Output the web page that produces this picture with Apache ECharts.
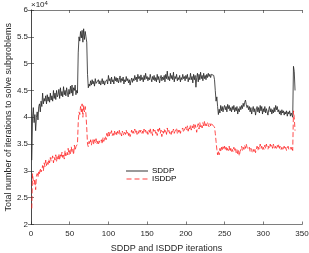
<!DOCTYPE html>
<html><head><meta charset="utf-8">
<script src="https://cdn.jsdelivr.net/npm/echarts@6/dist/echarts.min.js"></script>
<style>html,body{margin:0;padding:0;background:#fff}#c{width:309px;height:253px}</style>
</head><body><div id="c"></div>
<script>
// values in units of 1e4
const sddp = [
3.2,4.0,4.18,3.9,4.05,3.75,4.0,4.1,3.95,4.2,
4.25,4.1,4.3,4.2,4.45,4.25,4.35,4.3,4.4,4.25,
4.42,4.3,4.38,4.28,4.45,4.32,4.4,4.3,4.5,4.35,
4.45,4.33,4.5,4.38,4.42,4.52,4.35,4.55,4.4,4.48,
4.38,4.57,4.42,4.5,4.4,4.55,4.45,4.38,4.52,4.43,
4.58,4.45,4.6,4.4,4.55,4.5,4.6,4.42,4.5,4.45,
5.2,5.5,5.42,5.6,5.48,5.62,5.4,5.65,5.45,5.6,
5.5,5.4,4.8,4.55,4.62,4.58,4.68,4.6,4.7,4.62,
4.67,4.58,4.72,4.63,4.66,4.6,4.7,4.62,4.68,4.6,
4.65,4.72,4.62,4.68,4.6,4.66,4.63,4.7,4.62,4.78,
4.68,4.72,4.62,4.75,4.66,4.7,4.62,4.76,4.68,4.74,
4.66,4.73,4.64,4.7,4.77,4.65,4.72,4.68,4.75,4.62,
4.7,4.66,4.76,4.68,4.72,4.64,4.7,4.6,4.68,4.73,
4.65,4.72,4.68,4.78,4.7,4.75,4.66,4.8,4.72,4.76,
4.68,4.79,4.7,4.74,4.66,4.78,4.7,4.82,4.72,4.76,
4.68,4.74,4.7,4.8,4.72,4.66,4.76,4.7,4.78,4.68,
4.74,4.66,4.8,4.7,4.76,4.64,4.72,4.78,4.68,4.75,
4.7,4.78,4.66,4.8,4.72,4.86,4.7,4.76,4.68,4.82,
4.72,4.78,4.7,4.84,4.66,4.76,4.72,4.8,4.68,4.74,
4.7,4.78,4.66,4.74,4.7,4.8,4.72,4.76,4.68,4.78,
4.72,4.8,4.66,4.74,4.7,4.82,4.7,4.76,4.64,4.8,
4.7,4.78,4.56,4.74,4.82,4.66,4.8,4.7,4.84,4.72,
4.78,4.68,4.82,4.72,4.78,4.7,4.8,4.74,4.82,4.76,
4.8,4.74,4.8,4.78,4.82,4.78,4.7,
4.5,4.3,4.38,4.2,4.05,4.15,4.08,4.22,4.12,4.2,4.1,4.18,4.22,
4.14,4.2,4.1,4.24,4.16,4.22,4.12,4.18,4.1,4.2,
4.14,4.22,4.1,4.18,4.12,4.2,4.06,4.16,4.1,4.2,
4.14,4.22,4.16,4.26,4.2,4.28,4.32,4.24,4.18,4.22,
4.14,4.2,4.1,4.18,4.06,4.14,4.2,4.1,4.16,4.04,
4.14,4.2,4.1,4.18,4.08,4.22,4.12,4.2,4.06,4.16,
4.1,4.2,4.08,4.16,4.1,4.04,4.14,4.2,4.1,4.16,
4.06,4.14,4.08,4.18,4.1,4.22,4.14,4.2,4.1,4.14,
4.06,4.12,4.04,4.14,4.08,4.12,4.04,4.1,4.06,4.12,
4.02,4.1,4.06,4.12,4.02,4.08,4.05,4.0,4.95,4.85,4.5
];
const isddp = [
2.3,2.95,2.8,2.75,2.85,2.65,2.9,2.95,2.88,3.0,
2.95,3.05,2.98,3.02,3.1,3.0,3.15,3.08,3.2,3.1,
3.18,3.12,3.22,3.15,3.25,3.18,3.2,3.28,3.15,3.25,
3.2,3.3,3.18,3.28,3.22,3.32,3.2,3.3,3.25,3.35,
3.25,3.32,3.22,3.38,3.28,3.35,3.3,3.42,3.3,3.38,
3.32,3.45,3.35,3.4,3.3,3.48,3.38,3.45,3.42,3.5,
3.9,4.1,4.05,4.2,4.1,4.25,4.0,4.22,4.1,4.2,
4.05,3.8,3.5,3.45,3.55,3.5,3.58,3.48,3.55,3.6,
3.5,3.58,3.52,3.6,3.5,3.55,3.48,3.56,3.52,3.5,
3.58,3.5,3.62,3.55,3.6,3.65,3.58,3.7,3.62,3.72,
3.65,3.72,3.68,3.75,3.66,3.7,3.64,3.74,3.68,3.72,
3.66,3.74,3.7,3.76,3.68,3.72,3.65,3.74,3.7,3.66,
3.72,3.68,3.76,3.7,3.74,3.66,3.72,3.64,3.7,3.76,
3.68,3.74,3.7,3.78,3.72,3.76,3.68,3.74,3.7,3.78,
3.72,3.76,3.7,3.74,3.68,3.78,3.72,3.76,3.7,3.74,
3.68,3.76,3.72,3.8,3.7,3.74,3.66,3.78,3.72,3.76,
3.7,3.74,3.66,3.78,3.72,3.8,3.7,3.76,3.64,3.74,
3.7,3.78,3.72,3.76,3.68,3.8,3.72,3.76,3.7,3.74,
3.68,3.76,3.72,3.78,3.7,3.74,3.72,3.8,3.7,3.76,
3.72,3.78,3.7,3.76,3.74,3.8,3.72,3.76,3.74,3.82,
3.76,3.84,3.74,3.82,3.78,3.86,3.76,3.84,3.8,3.88,
3.78,3.86,3.8,3.72,3.84,3.88,3.78,3.9,3.82,3.86,
3.8,3.9,3.84,3.92,3.82,3.88,3.84,3.9,3.86,3.82,
3.88,3.84,3.9,3.86,3.88,3.85,3.82,
3.7,3.55,3.4,3.3,3.38,3.3,3.42,3.35,3.44,3.38,3.45,3.4,3.46,
3.38,3.44,3.36,3.42,3.38,3.46,3.36,3.42,3.34,3.4,
3.36,3.44,3.38,3.42,3.34,3.4,3.32,3.38,3.28,3.36,
3.4,3.46,3.38,3.44,3.4,3.48,3.42,3.5,3.44,3.46,
3.4,3.44,3.36,3.42,3.38,3.34,3.4,3.36,3.42,3.34,
3.4,3.46,3.38,3.44,3.4,3.5,3.42,3.46,3.38,3.44,
3.4,3.48,3.42,3.5,3.44,3.4,3.46,3.42,3.5,3.44,
3.48,3.42,3.5,3.44,3.4,3.46,3.42,3.48,3.44,3.5,
3.42,3.46,3.4,3.44,3.38,3.42,3.46,3.4,3.44,3.38,
3.42,3.46,3.4,3.38,3.44,3.4,3.45,3.38,4.12,4.0,3.75
];
const seriesNames = ['SDDP','ISDDP'];
const xTicks = [0,50,100,150,200,250,300,350];
const yTicks = [2,2.5,3,3.5,4,4.5,5,5.5,6];

const toPairs = a => a.map((v,i)=>[i+1,v]);
const font = 'Liberation Sans, Arial, sans-serif';
const axisCol = '#262626';
const chart = echarts.init(document.getElementById('c'), null, {renderer:'canvas'});
const baseX = {type:'value',min:0,max:350,interval:50,
  axisLine:{show:true,lineStyle:{color:axisCol,width:0.6}},
  axisTick:{show:true,inside:true,length:3,lineStyle:{color:axisCol,width:0.6}},
  splitLine:{show:false}};
const baseY = {type:'value',min:2,max:6,interval:0.5,
  axisLine:{show:true,lineStyle:{color:axisCol,width:0.6}},
  axisTick:{show:true,inside:true,length:3,lineStyle:{color:axisCol,width:0.6}},
  splitLine:{show:false}};
chart.setOption({
  animation:false,
  grid:{left:31,right:7,top:10,bottom:28.5,containLabel:false,outerBoundsMode:'none'},
  xAxis:[
    Object.assign({},baseX,{position:'bottom',name:'SDDP and ISDDP iterations',nameLocation:'middle',nameGap:20,
      nameTextStyle:{fontFamily:font,fontSize:9,color:axisCol},
      axisLabel:{fontFamily:font,fontSize:8,color:axisCol,margin:5,formatter:v=>xTicks.includes(v)?String(v):''}}),
    Object.assign({},baseX,{position:'top',axisLabel:{show:false}})
  ],
  yAxis:[
    Object.assign({},baseY,{position:'left',name:'Total number of iterations to solve subproblems',nameLocation:'middle',nameGap:18,
      nameMoveOverlap:false,
      nameTextStyle:{fontFamily:font,fontSize:9,color:axisCol},
      axisLabel:{fontFamily:font,fontSize:8,color:axisCol,margin:3,formatter:v=>yTicks.includes(v)?String(v):''}}),
    Object.assign({},baseY,{position:'right',axisLabel:{show:false}})
  ],
  legend:{show:true,orient:'vertical',left:121,top:162,itemWidth:22,itemHeight:1,itemGap:0,
    textStyle:{fontFamily:font,fontSize:8,color:'#000',padding:[0,0,0,-1]},
    data:[
      {name:seriesNames[0],icon:'path://M0,0H22V1H0Z'},
      {name:seriesNames[1],icon:'path://M0,0H5V1H0ZM8,0H13V1H8ZM16,0H21V1H16Z'}
    ]},
  graphic:[{type:'text',left:31,top:0,style:{text:'{a|×10}{b|4}',
    rich:{a:{fontFamily:font,fontSize:8,fill:axisCol},b:{fontFamily:font,fontSize:6,fill:axisCol,verticalAlign:'top',padding:[0,0,4,0]}}}}],
  series:[
    {name:seriesNames[0],type:'line',data:toPairs(sddp),showSymbol:false,symbol:'none',
      lineStyle:{color:'#222',width:0.8},itemStyle:{color:'#333'}},
    {name:seriesNames[1],type:'line',data:toPairs(isddp),showSymbol:false,symbol:'none',
      lineStyle:{color:'#ff2020',width:0.8,type:[5,2.5]},itemStyle:{color:'#ff4040'}}
  ]
});
</script></body></html>
